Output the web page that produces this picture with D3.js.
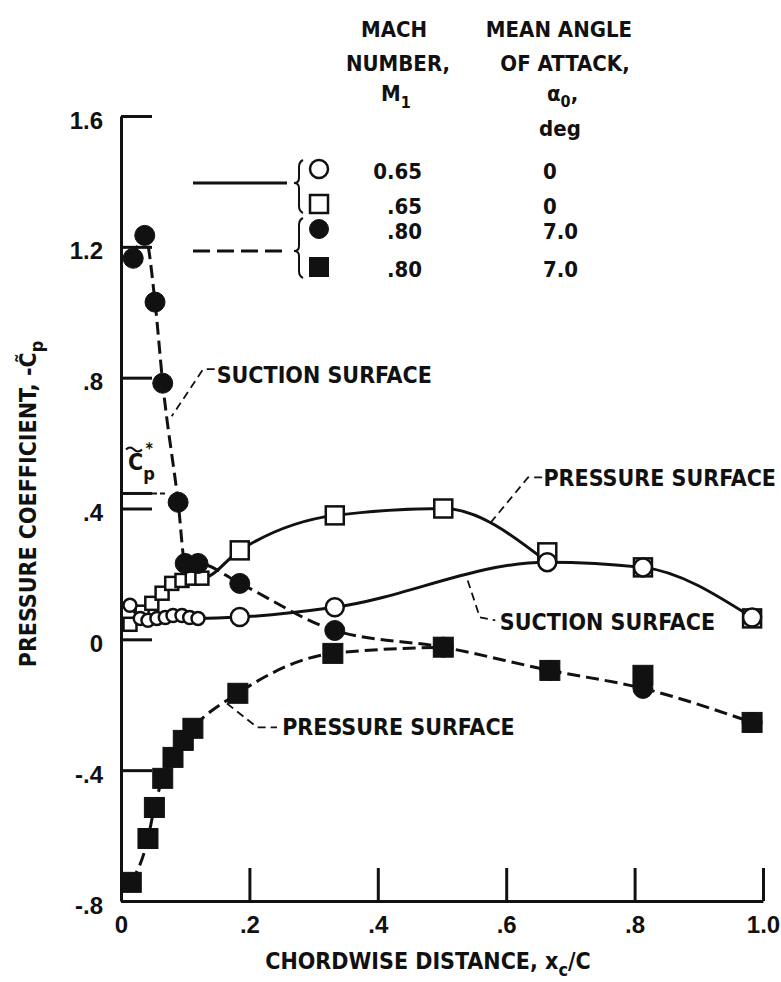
<!DOCTYPE html>
<html>
<head>
<meta charset="utf-8">
<script src="https://cdn.jsdelivr.net/npm/d3@7"></script>
<style>
  body { margin: 0; background: #fff; }
  svg { display: block; font-family: "DejaVu Sans Condensed", "DejaVu Sans", sans-serif; font-weight: bold; }
  text { fill: #111; }
</style>
</head>
<body>
<svg id="chart"></svg>
<script>
// axis ticks
const xTicks = [0, 0.2, 0.4, 0.6, 0.8, 1.0];
const xTickLabels = ["0", ".2", ".4", ".6", ".8", "1.0"];
const yTicks = [-0.8, -0.4, 0, 0.4, 0.8, 1.2, 1.6];
const yTickLabels = ["-.8", "-.4", "0", ".4", ".8", "1.2", "1.6"];

// M1 = 0.65, alpha0 = 0  -- suction surface (open circles)
const xOpenCircle  = [0.014, 0.030, 0.042, 0.056, 0.069, 0.081, 0.095, 0.107, 0.120, 0.185, 0.333, 0.664, 0.813, 0.983];
const cpOpenCircle = [0.104, 0.064, 0.058, 0.064, 0.067, 0.073, 0.073, 0.067, 0.064, 0.068, 0.098, 0.236, 0.220, 0.067];

// M1 = 0.65, alpha0 = 0  -- pressure surface (open squares)
const xOpenSquare  = [0.014, 0.033, 0.048, 0.064, 0.079, 0.095, 0.111, 0.126, 0.185, 0.333, 0.502, 0.664, 0.813, 0.983];
const cpOpenSquare = [0.046, 0.083, 0.110, 0.141, 0.171, 0.180, 0.187, 0.187, 0.272, 0.379, 0.400, 0.266, 0.220, 0.064];

// M1 = 0.80, alpha0 = 7.0 -- suction surface (filled circles)
const xFillCircle  = [0.019, 0.037, 0.053, 0.065, 0.089, 0.100, 0.120, 0.185, 0.333, 0.502, 0.668, 0.813, 0.983];
const cpFillCircle = [1.165, 1.235, 1.031, 0.783, 0.419, 0.232, 0.232, 0.171, 0.027, -0.024, -0.095, -0.150, -0.254];

// M1 = 0.80, alpha0 = 7.0 -- pressure surface (filled squares)
const xFillSquare  = [0.016, 0.042, 0.052, 0.065, 0.081, 0.097, 0.112, 0.182, 0.330, 0.502, 0.668, 0.813, 0.983];
const cpFillSquare = [-0.743, -0.609, -0.514, -0.425, -0.361, -0.309, -0.272, -0.165, -0.043, -0.024, -0.095, -0.110, -0.254];

// critical pressure coefficient
const cpStar = 0.446;

// legend table
const legendMach  = ["0.65", ".65", ".80", ".80"];
const legendAlpha = ["0", "0", "7.0", "7.0"];

const width = 781, height = 982;
const ink = "#111";

const svg = d3.select("#chart")
  .attr("width", width)
  .attr("height", height)
  .attr("viewBox", [0, 0, width, height]);

const x = d3.scaleLinear().domain([0, 1]).range([121, 763]);
const y = d3.scaleLinear().domain([-0.8, 1.6]).range([901, 116]);

// axes
svg.append("g")
  .attr("transform", `translate(0,${y(-0.8)})`)
  .call(d3.axisBottom(x).tickValues(xTicks).tickSizeInner(-33).tickSizeOuter(0).tickPadding(15)
    .tickFormat((d, i) => xTickLabels[i]))
  .call(g => g.selectAll("path, line").attr("stroke", ink).attr("stroke-width", 3))
  .call(g => g.selectAll("text").attr("font-size", 24).attr("fill", ink));

svg.append("g")
  .attr("transform", `translate(${x(0)},0)`)
  .call(d3.axisLeft(y).tickValues(yTicks).tickSizeInner(-31).tickSizeOuter(0).tickPadding(18)
    .tickFormat((d, i) => yTickLabels[i]))
  .call(g => g.selectAll("path, line").attr("stroke", ink).attr("stroke-width", 3))
  .call(g => g.selectAll("text").attr("font-size", 24).attr("fill", ink).attr("dy", "0.5em"));

// Cp* marker
svg.append("line")
  .attr("x1", x(0)).attr("x2", x(0) + 31)
  .attr("y1", y(cpStar)).attr("y2", y(cpStar))
  .attr("stroke", ink).attr("stroke-width", 3);
svg.append("line")
  .attr("x1", x(0) + 31).attr("x2", x(0) + 44)
  .attr("y1", y(cpStar)).attr("y2", y(cpStar))
  .attr("stroke", ink).attr("stroke-width", 2).attr("stroke-dasharray", "5,3");
const cpLab = svg.append("text")
  .attr("x", x(0) + 7).attr("y", y(cpStar) - 23)
  .attr("font-size", 23);
cpLab.append("tspan").text("C");
cpLab.append("tspan").attr("dy", 10).attr("font-size", 18).text("p");
cpLab.append("tspan").attr("dy", -26).attr("dx", -9).attr("font-size", 15).text("*");
svg.append("path")
  .attr("d", `M${x(0) + 5},${y(cpStar) - 44} q4,-4 8,0 t8,0`)
  .attr("fill", "none").attr("stroke", ink).attr("stroke-width", 2);

// curves: the pressure-surface curve runs into the suction-surface curve past joinX
const zip = (xs, ys) => xs.map((v, i) => [v, ys[i]]);
const joined = (own, other, joinX) => own.filter(d => d[0] < joinX).concat(other.filter(d => d[0] >= joinX).slice(0, 1));
const line = d3.line().x(d => x(d[0])).y(d => y(d[1])).curve(d3.curveMonotoneX);

const openCircle = zip(xOpenCircle, cpOpenCircle);
const openSquare = zip(xOpenSquare, cpOpenSquare);
const fillCircle = zip(xFillCircle, cpFillCircle);
const fillSquare = zip(xFillSquare, cpFillSquare);

const series = [
  { pts: fillSquare, curve: joined(fillSquare, fillCircle, 0.45), dash: true, shape: "square", filled: true },
  { pts: fillCircle, curve: fillCircle, dash: true, shape: "circle", filled: true },
  { pts: openCircle, curve: openCircle, dash: false, shape: "circle", filled: false },
  { pts: openSquare, curve: joined(openSquare, openCircle, 0.6), dash: false, shape: "square", filled: false }
];

series.forEach(s => {
  svg.append("path")
    .datum(s.curve)
    .attr("d", line)
    .attr("fill", "none")
    .attr("stroke", ink)
    .attr("stroke-width", 3)
    .attr("stroke-dasharray", s.dash ? "13,6" : null);
});

// markers (leading-edge open points were plotted smaller)
function marker(g, shape, size) {
  if (shape === "circle") {
    return g.append("circle").attr("r", size / 2);
  }
  return g.append("rect").attr("x", -size / 2).attr("y", -size / 2).attr("width", size).attr("height", size);
}

series.slice().reverse().forEach(s => {
  s.pts.forEach(p => {
    const size = s.filled ? 20 : (p[0] < 0.15 ? 13 : 18);
    const g = svg.append("g").attr("transform", `translate(${x(p[0])},${y(p[1])})`);
    marker(g, s.shape, size)
      .attr("fill", s.filled ? ink : "#fff")
      .attr("stroke", ink)
      .attr("stroke-width", s.filled ? 1 : 2.5);
  });
});

// callouts, anchored in data units
const callouts = [
  { text: "SUCTION SURFACE",  tx: 0.149, ty: 0.783, path: [[0.146, 0.826], [0.128, 0.826], [0.079, 0.682]] },
  { text: "PRESSURE SURFACE", tx: 0.658, ty: 0.468, path: [[0.656, 0.495], [0.634, 0.495], [0.575, 0.355]] },
  { text: "SUCTION SURFACE",  tx: 0.590, ty: 0.028, path: [[0.540, 0.180], [0.559, 0.067], [0.583, 0.058]] },
  { text: "PRESSURE SURFACE", tx: 0.251, ty: -0.294, path: [[0.165, -0.196], [0.212, -0.269], [0.243, -0.269]] }
];
const leader = d3.line().x(d => x(d[0])).y(d => y(d[1]));
callouts.forEach(c => {
  svg.append("path")
    .attr("d", leader(c.path))
    .attr("fill", "none")
    .attr("stroke", ink)
    .attr("stroke-width", 1.8)
    .attr("stroke-dasharray", "8,5");
  svg.append("text")
    .attr("x", x(c.tx)).attr("y", y(c.ty))
    .attr("font-size", 23)
    .text(c.text);
});

// axis titles
const xTitle = svg.append("text")
  .attr("x", 428).attr("y", 969)
  .attr("text-anchor", "middle")
  .attr("font-size", 23);
xTitle.append("tspan").text("CHORDWISE DISTANCE, x");
xTitle.append("tspan").attr("dy", 7).attr("font-size", 18).text("c");
xTitle.append("tspan").attr("dy", -7).text("/C");

const yTitle = svg.append("text")
  .attr("transform", "translate(36,504) rotate(-90)")
  .attr("text-anchor", "middle")
  .attr("font-size", 23);
yTitle.append("tspan").text("PRESSURE COEFFICIENT, -C\u0303");
yTitle.append("tspan").attr("dy", 7).attr("font-size", 18).text("p");

// legend
const legend = svg.append("g").attr("font-size", 22);
const headers = [
  { text: "MACH", x: 394, y: 37 },
  { text: "NUMBER,", x: 398, y: 71 },
  { text: "MEAN ANGLE", x: 559, y: 37 },
  { text: "OF ATTACK,", x: 565, y: 71 },
  { text: "deg", x: 560, y: 136 }
];
headers.forEach(h => legend.append("text").attr("x", h.x).attr("y", h.y).attr("text-anchor", "middle").text(h.text));
const m1 = legend.append("text").attr("x", 381).attr("y", 101);
m1.append("tspan").text("M");
m1.append("tspan").attr("dy", 7).attr("font-size", 16).text("1");
const a0 = legend.append("text").attr("x", 547).attr("y", 101);
a0.append("tspan").text("\u03b1");
a0.append("tspan").attr("dy", 6).attr("font-size", 16).text("0");
a0.append("tspan").attr("dy", -6).text(",");

const rowY = [169, 204, 229, 267];
const legendShapes = [["circle", false], ["square", false], ["circle", true], ["square", true]];
rowY.forEach((ry, i) => {
  const filled = legendShapes[i][1];
  const g = legend.append("g").attr("transform", `translate(319,${ry})`);
  marker(g, legendShapes[i][0], filled ? 19 : 18)
    .attr("fill", filled ? ink : "#fff")
    .attr("stroke", ink)
    .attr("stroke-width", filled ? 1 : 2.5);
  legend.append("text").attr("x", 422).attr("y", ry + 10).attr("text-anchor", "end").text(legendMach[i]);
  legend.append("text").attr("x", 543).attr("y", ry + 10).text(legendAlpha[i]);
});

// legend line keys and braces
[[183, false], [251, true]].forEach(([ly, dashed]) => {
  legend.append("line")
    .attr("x1", 193).attr("x2", 287).attr("y1", ly).attr("y2", ly)
    .attr("stroke", ink).attr("stroke-width", 3)
    .attr("stroke-dasharray", dashed ? "17,7" : null);
});
function brace(top, mid, bottom, x0) {
  const p = d3.path();
  p.moveTo(x0 + 6, top);
  p.quadraticCurveTo(x0 + 2, top + 2, x0 + 2, top + 7);
  p.lineTo(x0 + 2, mid - 5);
  p.quadraticCurveTo(x0 + 2, mid, x0 - 3, mid);
  p.quadraticCurveTo(x0 + 2, mid, x0 + 2, mid + 5);
  p.lineTo(x0 + 2, bottom - 7);
  p.quadraticCurveTo(x0 + 2, bottom - 2, x0 + 6, bottom);
  return p.toString();
}
[[160, 183, 213], [218, 251, 278]].forEach(([t, m, b]) => {
  legend.append("path")
    .attr("d", brace(t, m, b, 297))
    .attr("fill", "none").attr("stroke", ink).attr("stroke-width", 2);
});
</script>
</body>
</html>
